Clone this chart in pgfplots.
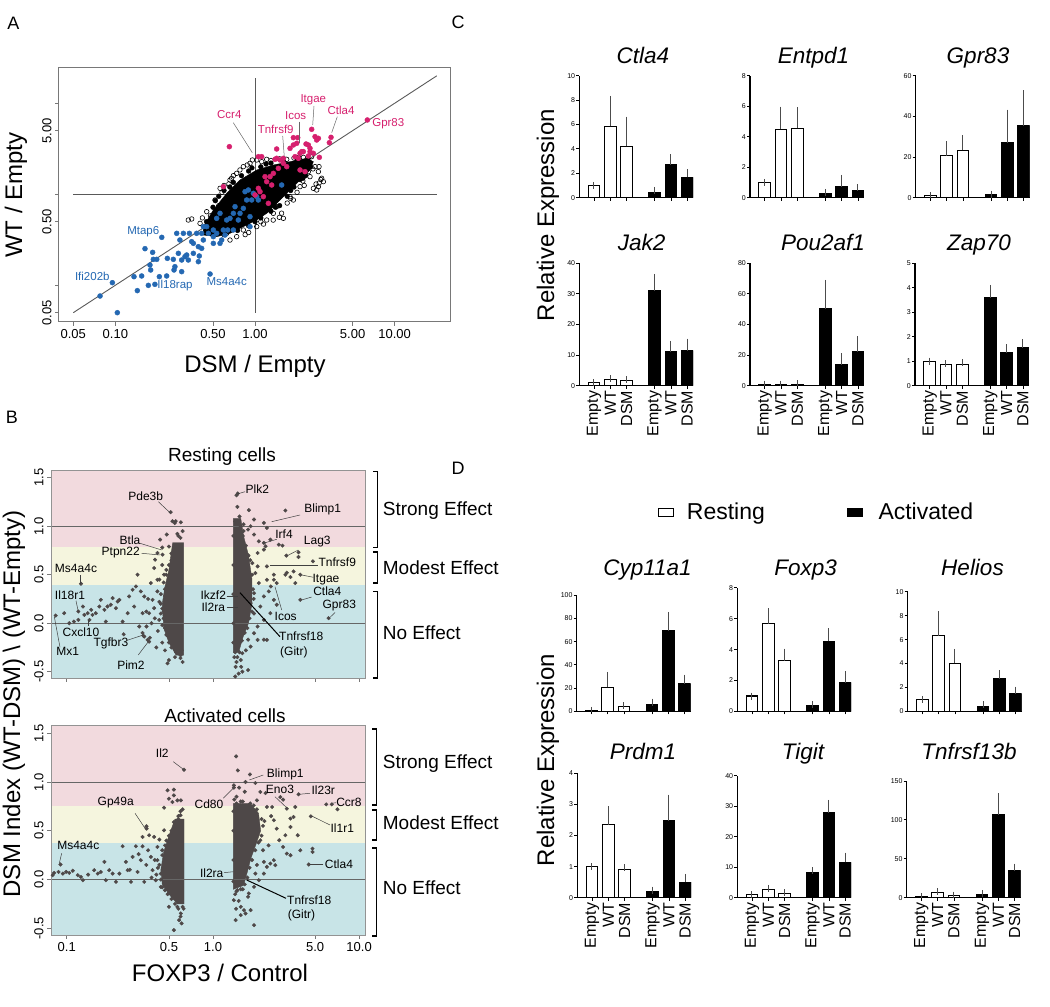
\documentclass[border=0pt]{standalone}
\usepackage{fontspec}
\setmainfont{Liberation Sans}
\usepackage{pgfplots}
\pgfplotsset{compat=1.18}
\definecolor{pinkpt}{RGB}{214,32,110}
\definecolor{bluept}{RGB}{36,104,178}
\definecolor{shpink}{RGB}{242,218,222}
\definecolor{shyel}{RGB}{245,245,222}
\definecolor{shblue}{RGB}{200,228,231}
\definecolor{ptgrey}{RGB}{78,72,72}
\definecolor{axgrey}{RGB}{120,120,120}
\newcommand{\fs}[1]{\fontsize{#1pt}{#1pt}\selectfont}
\pgfplotsset{
  every axis/.append style={/pgf/number format/assume math mode=true},
  barax/.style={anchor=south west, scale only axis, width=113.8pt,
    xmin=0.1, xmax=7.08, ymin=0, enlargelimits=false,
    axis x line*=bottom, axis y line*=left, axis line style={-, line width=1.1pt},
    xtick={1,2,3,4.72,5.72,6.72}, xticklabels={}, tick align=outside,
    major tick length=3pt, tick style={line width=0.8pt, black},
    yticklabel style={font=\fs{7}, inner sep=1pt}},
  rest/.style={ybar, bar shift=0pt, bar width=0.72, fill=white, draw=black, line width=1.1pt,
    error bars/y dir=plus, error bars/y explicit,
    error bars/error bar style={line width=1pt, black!70},
    error bars/error mark options={mark size=3.5pt, line width=1pt, black!70}},
  act/.style={rest, fill=black},
  botlab/.style={xticklabels={Empty,WT,DSM,Empty,WT,DSM},
    xticklabel style={rotate=90, anchor=east, font=\fs{16}, inner sep=2pt}},
  bpt/.style={only marks, mark=*, mark size=1.8pt, ptgrey, mark options={draw=ptgrey, fill=ptgrey}},
}
\tikzset{glab/.style={font=\fs{12}, inner sep=0pt},
  alab/.style={font=\fs{11.5}, inner sep=0pt},
  lead/.style={black!75, line width=0.5pt},
  ttl/.style={font=\fs{22.5}\itshape, anchor=base, inner sep=0pt}}
\begin{document}
\begin{tikzpicture}
\useasboundingbox (0,0) rectangle (1050pt,1007pt);
% ================= Panel A =================
\begin{axis}[anchor=south west, scale only axis, at={(59pt,685pt)}, width=392pt, height=254pt,
  xmode=log, ymode=log, xmin=0.0395, xmax=25.3, ymin=0.0395, ymax=24.4,
  axis line style={axgrey, line width=1pt}, tick style={axgrey, line width=0.8pt},
  tick align=outside, major tick length=4pt, xtick pos=left, ytick pos=left,
  xminorticks=false, yminorticks=false,
  ticklabel style={font=\fs{13}}, yticklabel style={rotate=90, anchor=south},
  xtick={0.05,0.1,0.5,1,5,10}, xticklabels={0.05,0.10,0.50,1.00,5.00,10.00},
  ytick={0.05,0.1,0.5,1,5,10}, yticklabels={0.05,,0.50,,5.00,}]
\addplot[black!65, line width=0.9pt] coordinates {(0.05,0.05) (20,20)};
\addplot[black!65, line width=0.9pt] coordinates {(1,0.05) (1,19)};
\addplot[black!65, line width=0.9pt] coordinates {(0.05,1) (20,1)};
\addplot[only marks, mark=o, mark size=2.3pt, mark options={black, line width=0.6pt}] coordinates {
(0.352,0.535) (1.028,2.38) (1.116,2.281) (1.212,2.42) (1.686,2.42) (2.219,2.546) (2.69,2.011)
(2.842,1.772) (3.086,1.375) (2.842,1.212) (2.764,1.114) (2.476,1.561) (2.10,1.212) (1.882,0.865)
(1.596,0.544) (1.281,0.672) (1.429,0.731) (1.212,0.521) (1.028,0.441) (0.825,0.405) (0.739,0.342)
(0.662,0.314) (0.517,0.865) (0.562,1.162) (0.662,1.435) (0.739,1.698) (0.825,2.011) (0.921,2.188)
(0.451,0.644) (0.404,0.479) (0.333,0.521) (1.494,0.558) (0.957,2.38) (2.545,2.589) (2.873,2.011)
(2.617,1.162) (2.734,1.297) (0.973,0.544) (1.353,0.617) (1.781,0.941) (2.159,1.698) (2.409,1.772)
(0.627,0.372) (1.028,0.567) (0.60,1.25) (0.70,1.60) (0.78,1.85) (1.5,2.45) (1.9,2.5) (2.3,2.3)
(2.6,1.9) (2.2,1.4) (2.0,1.05) (1.7,0.8) (1.35,0.52) (1.15,0.47) (0.9,0.38) (0.55,0.75)
(0.48,0.58) (0.44,0.42) (2.96,1.45) (3.0,1.5) (2.88,1.33) (0.58,1.05) (0.65,1.30) (0.88,2.1)
(1.3,2.35) (2.4,2.1) (2.25,1.25) (1.8,0.9) (1.55,0.62) (1.1,0.5) (0.85,0.36) (0.5,0.5)
(0.42,0.55) (0.68,1.5) (2.05,2.55)};
\addplot[black, fill=black] coordinates {(0.4266,0.4406) (0.503,0.6716) (0.6269,1.024) (0.781,1.435)
(1.028,1.848) (1.353,2.097) (1.781,2.281) (2.344,2.483) (2.617,2.281) (2.476,1.848) (1.988,1.318)
(1.686,1.024) (1.429,0.795) (1.212,0.6172) (1.028,0.5213) (0.825,0.4406) (0.6622,0.3722)
(0.5315,0.342) (0.4266,0.3567)} --cycle;
\addplot[only marks, mark=*, mark size=2.4pt, black] coordinates {
(0.45,0.50) (0.5,0.72) (0.55,0.95) (0.6,1.1) (0.7,1.35) (0.8,1.6) (0.9,1.8) (1.1,2.0) (1.3,2.2)
(1.6,2.3) (2.0,2.35) (2.4,2.35) (2.5,2.0) (2.3,1.6) (2.1,1.45) (1.9,1.2) (1.7,0.95) (1.5,0.75)
(1.3,0.65) (1.1,0.55) (0.9,0.45) (0.75,0.40) (0.6,0.36) (0.48,0.37) (0.52,0.85) (0.66,1.2)
(0.95,1.95) (1.2,2.15) (2.2,1.5) (1.8,1.1) (1.4,0.72) (1.0,0.5)};
\addplot[only marks, mark=*, mark size=2.5pt, bluept, mark options={draw=bluept, fill=bluept}] coordinates {
(0.0777,0.0762) (0.0952,0.1068) (0.1033,0.05) (0.1437,0.0873) (0.1723,0.0998) (0.192,0.1024)
(0.136,0.1243) (0.1543,0.1265) (0.2065,0.1243) (0.233,0.1265) (0.263,0.1472) (0.2985,0.1411)
(0.163,0.2524) (0.185,0.2301) (0.187,0.1928) (0.198,0.1928) (0.177,0.167) (0.179,0.1472)
(0.215,0.3363) (0.2356,0.1977) (0.26,0.1928) (0.267,0.1601) (0.275,0.3722) (0.29,0.3144)
(0.307,0.3722) (0.315,0.2062) (0.324,0.2151) (0.333,0.1895) (0.339,0.3722) (0.352,0.3014)
(0.3618,0.2889) (0.382,0.3722) (0.393,0.2655) (0.399,0.2098) (0.393,0.1816) (0.415,0.2545)
(0.4266,0.3144) (0.415,0.3722) (0.4508,0.4406) (0.4634,0.3722) (0.4764,0.133) (0.503,0.342)
(0.503,0.4049) (0.5315,0.3722) (0.5615,0.2889) (0.577,0.3144) (0.5933,0.4049) (0.61,0.3567)
(0.637,0.4049) (0.6622,0.5437) (0.6998,0.6172) (0.7193,0.7306) (0.781,0.6172) (0.8716,0.865)
(0.896,1.114) (0.9729,1.024) (1.028,0.941) (0.9208,0.5672) (0.9208,0.4406) (0.825,0.7005)
(0.5315,0.5437) (0.5615,0.6172) (0.6269,0.5213) (0.6998,0.4049) (0.7597,0.5213) (1.552,1.264)
(1.0565,0.865) (0.503,0.2889) (0.4266,0.4406) (0.3618,0.2244) (0.2985,0.1895) (0.2826,0.2244)
(0.848,1.068) (0.946,0.865)};
\addplot[only marks, mark=*, mark size=2.5pt, pinkpt, mark options={draw=pinkpt, fill=pinkpt}] coordinates {
(0.655,3.334) (0.5933,1.212) (1.116,2.589) (1.51,2.38) (1.469,1.928) (1.686,2.011) (1.781,3.197)
(1.882,3.478) (2.10,2.817) (2.409,3.478) (2.476,2.94) (2.764,3.947) (1.988,3.628) (2.219,2.94)
(1.281,1.561) (1.212,1.375) (1.316,1.264) (1.086,1.068) (1.246,0.795) (1.0,0.982) (1.353,1.698)
(1.596,2.188) (2.10,1.848) (2.28,1.772) (1.882,4.188) (2.021,4.188) (2.545,5.172) (3.501,4.223)
(3.406,3.69) (6.373,6.548) (2.318,3.567) (2.69,4.295) (2.842,4.118) (2.476,3.197) (2.617,2.817)
(2.888,2.546) (2.409,2.634) (2.159,2.94) (1.934,2.589) (2.043,2.483) (1.429,3.144) (1.391,2.42)
(1.0565,2.589) (1.429,2.483) (1.596,2.483) (1.179,1.561) (1.0565,1.162) (1.147,0.941)};
\end{axis}
\node[font=\fs{18}] at (13.5pt,983.5pt) {A};
\node[font=\fs{24}, rotate=90] at (16pt,812pt) {WT / Empty};
\node[font=\fs{24}] at (255pt,641pt) {DSM / Empty};
\node[alab, text=pinkpt] at (229.3pt,892.7pt) {Ccr4};
\draw[black!60, line width=0.5pt] (233.3pt,884.3pt) -- (252.3pt,854.3pt);
\node[alab, text=pinkpt] at (313.3pt,907.7pt) {Itgae};
\draw[black!60, line width=0.5pt] (314pt,901pt) -- (312.7pt,882pt);
\node[alab, text=pinkpt] at (295.7pt,891.7pt) {Icos};
\draw[black!60, line width=0.5pt] (299pt,885.3pt) -- (299pt,863.7pt);
\node[alab, text=pinkpt] at (275.7pt,877.7pt) {Tnfrsf9};
\draw[black!60, line width=0.5pt] (282.7pt,871pt) -- (284.3pt,850.3pt);
\node[alab, text=pinkpt] at (341pt,897pt) {Ctla4};
\draw[black!60, line width=0.5pt] (337.3pt,890.3pt) -- (331.7pt,874.3pt);
\node[alab, text=pinkpt] at (388.3pt,883pt) {Gpr83};
\node[alab, text=bluept] at (143.3pt,775.3pt) {Mtap6};
\node[alab, text=bluept] at (92.3pt,730.3pt) {Ifi202b};
\node[alab, text=bluept] at (175pt,721pt) {Il18rap};
\node[alab, text=bluept] at (226.7pt,725.3pt) {Ms4a4c};
% ================= Panel B top (Resting) =================
\begin{axis}[anchor=south west, scale only axis, at={(51pt,329pt)}, width=314pt, height=208pt,
  xmode=log, xmin=0.078, xmax=10.97, ymin=-0.565, ymax=1.58,
  axis line style={axgrey!80, line width=0.8pt}, tick style={axgrey, line width=0.8pt},
  tick align=outside, major tick length=4pt, xtick pos=left, ytick pos=left,
  xminorticks=false, axis on top,
  ticklabel style={font=\fs{13}}, yticklabel style={rotate=90, anchor=south},
  xtick={0.1,0.5,1,5,10}, xticklabels={},
  ytick={-0.5,0,0.5,1,1.5}, yticklabels={-0.5,0.0,0.5,1.0,1.5}]
\addplot[draw=none, fill=shpink] coordinates {(0.078,0.79) (10.97,0.79) (10.97,1.58) (0.078,1.58)} --cycle;
\addplot[draw=none, fill=shyel] coordinates {(0.078,0.39) (10.97,0.39) (10.97,0.79) (0.078,0.79)} --cycle;
\addplot[draw=none, fill=shblue] coordinates {(0.078,-0.565) (10.97,-0.565) (10.97,0.39) (0.078,0.39)} --cycle;
\addplot[draw=ptgrey, fill=ptgrey] coordinates {(0.53,0.83) (0.63,0.83) (0.63,-0.33) (0.56,-0.33)
(0.50,-0.2) (0.46,-0.05) (0.45,0.2) (0.47,0.38) (0.50,0.55)} --cycle;
\addplot[draw=ptgrey, fill=ptgrey] coordinates {(1.38,1.08) (1.55,1.08) (1.62,0.9) (1.75,0.7)
(1.85,0.45) (1.85,0.2) (1.75,0.0) (1.6,-0.15) (1.5,-0.3) (1.38,-0.3)} --cycle;
\addplot[bpt] coordinates {
(0.084,0.079) (0.096,0.103) (0.104,0.0) (0.112,0.017) (0.120,0.034) (0.120,0.121) (0.129,0.172)
(0.132,0.086) (0.139,0.103) (0.147,0.138) (0.150,0.086) (0.158,0.103) (0.167,0.172) (0.171,0.241)
(0.181,0.138) (0.185,0.017) (0.190,0.172) (0.200,0.19) (0.206,0.259) (0.217,0.155) (0.223,0.224)
(0.229,0.241) (0.241,0.017) (0.245,-0.114) (0.261,0.103) (0.267,0.276) (0.282,0.345) (0.289,0.172)
(0.297,0.379) (0.305,0.5) (0.313,-0.034) (0.321,0.328) (0.330,0.103) (0.339,0.276) (0.339,-0.138)
(0.351,-0.034) (0.357,-0.172) (0.366,0.103) (0.376,0.414) (0.386,0.241) (0.396,0.569) (0.396,0.155)
(0.402,0.655) (0.417,0.724) (0.417,0.448) (0.417,0.328) (0.429,0.034) (0.435,0.862) (0.452,0.707)
(0.463,0.5) (0.483,0.914) (0.489,-0.414) (0.514,1.145) (0.548,1.034) (0.556,1.052) (0.571,0.921)
(0.603,1.041) (0.528,1.052) (0.125,0.407) (0.143,0.034) (0.40,0.05) (0.42,-0.08) (0.44,0.2)
(0.45,-0.2) (0.46,0.12) (0.43,0.45) (0.45,0.6) (0.47,0.35) (0.38,0.0) (0.36,0.25) (0.41,-0.25)
(0.47,-0.28) (0.50,-0.38) (0.55,-0.35) (0.60,-0.33) (0.58,0.9) (0.62,0.95) (0.45,0.78) (0.50,0.79)
(0.52,0.65) (0.48,0.55) (0.35,0.12) (0.37,-0.15) (0.33,-0.10) (0.335,-0.131) (0.366,-0.19)
(0.44,0.3) (0.46,0.42) (0.48,0.5) (0.5,0.6) (0.52,0.72) (0.55,0.8) (0.45,0.15) (0.46,0.05)
(0.47,-0.05) (0.48,-0.12) (0.5,-0.2) (0.52,-0.25) (0.56,-0.3) (0.6,-0.36) (0.62,-0.4) (0.61,-0.28)
(0.43,0.22) (0.44,0.1) (0.45,-0.02) (0.53,0.68) (0.56,0.75) (0.6,0.88) (0.58,0.78) (0.51,0.45)
(0.49,0.38) (0.47,0.28)
(1.48,1.338) (1.45,1.32) (1.76,1.166) (2.23,1.034) (2.34,0.983) (3.13,1.162) (1.74,0.966)
(1.91,0.914) (2.06,0.845) (2.23,0.828) (2.29,0.793) (2.23,0.759) (2.82,0.81) (2.99,0.80)
(3.18,0.697) (3.85,0.731) (3.85,0.683) (4.83,0.638) (3.96,0.5) (3.56,0.534) (3.39,0.476)
(3.66,0.414) (3.13,0.5) (2.61,0.5) (2.61,0.448) (2.49,0.379) (2.73,0.414) (2.41,0.328)
(2.23,0.276) (2.06,0.414) (1.95,0.517) (1.91,0.31) (1.81,0.207) (2.11,0.172) (2.61,0.241)
(2.73,0.19) (2.47,0.103) (2.23,0.034) (2.02,-0.034) (1.91,-0.103) (2.34,-0.172) (2.02,-0.172)
(1.81,-0.241) (1.74,-0.483) (1.59,-0.5) (1.55,-0.379) (3.96,0.241) (6.18,0.052) (1.91,1.069)
(1.81,1.0) (1.74,0.69) (1.86,0.62) (2.02,0.586) (2.02,0.724) (1.76,0.414) (2.34,0.586)
(2.47,0.862) (3.2,0.52) (2.34,0.448) (2.23,-0.17) (1.91,0.10) (1.74,-0.17) (1.59,-0.31)
(1.42,-0.3) (1.45,-0.4) (1.42,-0.55) (1.50,-0.52) (1.52,-0.2) (1.65,-0.05) (1.44,-0.12)
(1.47,1.2) (1.42,1.05) (1.55,1.0) (1.6,0.9) (1.4,-0.35) (1.56,-0.45) (1.68,-0.28)
(1.62,0.95) (1.68,0.8) (1.75,0.7) (1.8,0.65) (1.85,0.5) (1.88,0.35) (1.9,0.25) (1.85,0.12)
(1.78,0.05) (1.72,-0.05) (1.65,-0.1) (1.58,-0.18) (1.52,-0.3) (1.47,-0.35) (1.43,-0.45)
(1.62,1.02) (1.52,1.1) (1.38,0.9) (1.38,0.6) (1.38,0.3) (1.38,0.0) (1.38,-0.2) (1.7,0.45)
(1.75,0.3) (1.65,0.2)};
\addplot[black!60, line width=0.7pt] coordinates {(0.078,1) (10.97,1)};
\addplot[black!60, line width=0.7pt] coordinates {(0.078,0) (10.97,0)};
\end{axis}
% ================= Panel B bottom (Activated) =================
\begin{axis}[anchor=south west, scale only axis, at={(51pt,72pt)}, width=314pt, height=210pt,
  xmode=log, xmin=0.078, xmax=10.97, ymin=-0.569, ymax=1.585,
  axis line style={axgrey!80, line width=0.8pt}, tick style={axgrey, line width=0.8pt},
  tick align=outside, major tick length=4pt, xtick pos=left, ytick pos=left,
  xminorticks=false, axis on top,
  ticklabel style={font=\fs{13}}, yticklabel style={rotate=90, anchor=south},
  xtick={0.1,0.5,1,5,10}, xticklabels={0.1,0.5,1.0,5.0,10.0},
  ytick={-0.5,0,0.5,1,1.5}, yticklabels={-0.5,0.0,0.5,1.0,1.5}]
\addplot[draw=none, fill=shpink] coordinates {(0.078,0.75) (10.97,0.75) (10.97,1.585) (0.078,1.585)} --cycle;
\addplot[draw=none, fill=shyel] coordinates {(0.078,0.37) (10.97,0.37) (10.97,0.75) (0.078,0.75)} --cycle;
\addplot[draw=none, fill=shblue] coordinates {(0.078,-0.569) (10.97,-0.569) (10.97,0.37) (0.078,0.37)} --cycle;
\addplot[draw=ptgrey, fill=ptgrey] coordinates {(0.55,0.62) (0.634,0.62) (0.634,-0.25) (0.57,-0.25)
(0.50,-0.15) (0.45,-0.05) (0.44,0.1) (0.46,0.28) (0.50,0.45)} --cycle;
\addplot[draw=ptgrey, fill=ptgrey] coordinates {(1.38,0.78) (1.80,0.78) (2.05,0.68) (2.12,0.50)
(1.98,0.37) (1.82,0.22) (1.72,0.08) (1.62,-0.06) (1.38,-0.1)} --cycle;
\addplot[bpt] coordinates {
(0.0906,0.154) (0.080,0.044) (0.082,0.068) (0.0878,0.078) (0.094,0.061) (0.099,0.078) (0.104,0.068)
(0.119,0.044) (0.125,0.027) (0.129,-0.007) (0.154,0.096) (0.163,0.061) (0.171,0.078) (0.181,0.181)
(0.185,-0.007) (0.195,0.096) (0.206,0.061) (0.217,-0.024) (0.229,0.061) (0.241,0.341) (0.254,0.181)
(0.261,0.096) (0.275,-0.024) (0.282,0.232) (0.297,0.341) (0.305,0.078) (0.321,0.198) (0.330,0.341)
(0.330,0.437) (0.339,-0.024) (0.351,0.546) (0.352,0.522) (0.366,0.454) (0.376,0.232) (0.386,0.096)
(0.396,0.437) (0.406,-0.007) (0.417,0.334) (0.44,-0.075) (0.463,0.505) (0.463,0.737) (0.489,0.915)
(0.50,0.829) (0.528,0.795) (0.54,0.922) (0.54,0.863) (0.571,0.812) (0.603,0.812) (0.587,-0.416)
(0.54,-0.519) (0.603,-0.348) (0.571,-0.28) (0.50,-0.28) (0.47,-0.11) (0.44,0.061) (0.417,0.198)
(0.571,0.471) (0.54,0.59) (0.556,0.539) (0.634,1.126) (0.60,0.70) (0.62,0.72) (0.58,0.65)
(0.36,0.30) (0.38,0.02) (0.35,0.15) (0.42,0.12) (0.45,0.25) (0.27,0.10) (0.31,0.26) (0.14,0.05)
(0.11,0.09) (0.61,-0.45) (0.63,-0.30) (0.48,0.40) (0.43,0.41)
(0.44,0.0) (0.43,0.15) (0.45,0.3) (0.47,0.35) (0.5,0.45) (0.52,0.5) (0.55,0.55) (0.58,0.62)
(0.6,0.66) (0.45,-0.08) (0.49,-0.15) (0.52,-0.2) (0.55,-0.25) (0.58,-0.3) (0.62,-0.28) (0.6,-0.38)
(0.47,0.2) (0.41,0.05) (0.40,0.2)
(1.44,1.263) (1.48,1.119) (1.79,1.078) (1.67,1.0) (1.39,0.966) (1.51,0.942) (1.95,0.99)
(2.11,0.898) (2.29,0.887) (2.0,0.812) (2.34,0.744) (2.54,0.744) (2.89,0.846) (3.02,0.819)
(3.2,0.727) (3.66,0.744) (3.85,0.874) (3.56,0.642) (3.39,0.625) (3.80,0.454) (3.39,0.539)
(2.73,0.522) (2.61,0.608) (2.84,0.403) (3.13,0.454) (3.2,0.266) (3.02,0.334) (2.61,0.198)
(2.47,0.164) (2.67,0.147) (2.34,0.13) (2.23,0.181) (3.96,0.30) (4.8,0.317) (4.8,0.283)
(3.39,0.249) (4.52,0.154) (4.67,0.648) (5.96,0.771) (6.5,0.771) (7.11,0.72) (2.11,0.403)
(1.91,0.539) (2.06,-0.007) (1.91,-0.075) (1.76,-0.143) (1.55,-0.28) (1.43,-0.416) (1.63,-0.314)
(1.91,-0.468) (1.81,-0.314) (1.74,-0.177) (1.47,-0.109) (1.39,-0.212) (1.55,-0.365) (1.67,-0.348)
(1.95,0.061) (2.23,0.061) (1.39,0.942) (1.4,0.82) (1.45,0.85) (1.55,0.80) (1.65,0.9) (2.2,0.3)
(2.4,0.35) (2.0,0.15) (1.85,0.3) (2.25,0.6) (2.5,0.65) (1.42,-0.15) (1.50,-0.22) (1.60,-0.10)
(1.44,-0.30)
(1.8,0.78) (1.9,0.76) (2.0,0.72) (2.15,0.62) (2.2,0.55) (2.15,0.45) (2.05,0.38) (1.95,0.3)
(1.85,0.2) (1.78,0.12) (1.72,0.02) (1.65,-0.05) (1.55,-0.1) (1.45,-0.12) (1.38,0.5) (1.38,0.2)
(1.38,-0.02) (1.38,0.7) (1.6,0.8) (1.45,0.78)};
\addplot[black!60, line width=0.7pt] coordinates {(0.078,1) (10.97,1)};
\addplot[black!60, line width=0.7pt] coordinates {(0.078,0) (10.97,0)};
\end{axis}
% ---- Panel B texts ----
\node[font=\fs{18}] at (12pt,590pt) {B};
\node[font=\fs{24}, rotate=90] at (14pt,303pt) {DSM Index (WT-DSM) \textbackslash{} (WT-Empty)};
\node[font=\fs{24}] at (220pt,34pt) {FOXP3 / Control};
\node[font=\fs{19}] at (222pt,550pt) {Resting cells};
\node[font=\fs{19}] at (225pt,291pt) {Activated cells};
\begin{scope}[line width=1.1pt]
\draw (373pt,535.3pt) -- (377.7pt,535.3pt) -- (377.7pt,459.7pt) -- (373pt,459.7pt);
\draw (373pt,455pt) -- (377.7pt,455pt) -- (377.7pt,424pt) -- (373pt,424pt);
\draw (373pt,415.3pt) -- (377.7pt,415.3pt) -- (377.7pt,329pt) -- (373pt,329pt);
\draw (372pt,278pt) -- (376.5pt,278pt) -- (376.5pt,202pt) -- (372pt,202pt);
\draw (372pt,197pt) -- (376.5pt,197pt) -- (376.5pt,167pt) -- (372pt,167pt);
\draw (372pt,159pt) -- (376.5pt,159pt) -- (376.5pt,71pt) -- (372pt,71pt);
\end{scope}
\begin{scope}[every node/.style={font=\fs{19}, anchor=west, inner sep=0pt}]
\node at (382.7pt,496.3pt) {Strong Effect};
\node at (382.7pt,439pt) {Modest Effect};
\node at (382.7pt,374.3pt) {No Effect};
\node at (382.7pt,243pt) {Strong Effect};
\node at (382.7pt,184.3pt) {Modest Effect};
\node at (382.7pt,119.7pt) {No Effect};
\end{scope}
% resting gene labels
\node[glab] at (145.7pt,511pt) {Pde3b}; \draw[lead] (158.3pt,505.3pt) -- (170pt,494.3pt);
\node[glab] at (257.3pt,517.7pt) {Plk2}; \draw[lead] (245pt,515.3pt) -- (237.3pt,513pt);
\node[glab] at (322.7pt,497.7pt) {Blimp1}; \draw[lead] (300pt,492pt) -- (271.7pt,485.3pt);
\node[glab] at (284pt,472.7pt) {Irf4}; \draw[lead] (276.7pt,467.7pt) -- (263.3pt,463.7pt);
\node[glab] at (317.3pt,465.3pt) {Lag3}; \draw[lead] (298.3pt,457pt) -- (286.7pt,451pt);
\node[glab] at (337.3pt,444.3pt) {Tnfrsf9}; \draw[lead] (270pt,442pt) -- (318.3pt,442pt);
\node[glab] at (326pt,427pt) {Itgae}; \draw[lead] (313.3pt,429.7pt) -- (301.7pt,432pt);
\node[glab] at (130pt,467pt) {Btla}; \draw[lead] (140pt,463.7pt) -- (161.7pt,457pt);
\node[glab] at (120.7pt,454.7pt) {Ptpn22}; \draw[lead] (141.7pt,453.7pt) -- (160pt,452pt);
\node[glab] at (76pt,438.3pt) {Ms4a4c}; \draw[lead] (80pt,432pt) -- (80pt,423pt);
\node[glab] at (70pt,411.7pt) {Il18r1}; \draw[lead] (76pt,406.3pt) -- (78.3pt,395.3pt);
\node[glab] at (81pt,375pt) {Cxcl10}; \draw[lead] (88.3pt,381pt) -- (88.3pt,387pt);
\node[glab] at (67.7pt,355.3pt) {Mx1}; \draw[lead] (60pt,359.7pt) -- (54.3pt,390.3pt);
\node[glab] at (111pt,364pt) {Tgfbr3}; \draw[lead] (126pt,366.3pt) -- (143.3pt,372pt);
\node[glab] at (131pt,342pt) {Pim2}; \draw[lead] (138.3pt,352pt) -- (148.3pt,365.3pt);
\node[glab] at (213.3pt,412pt) {Ikzf2}; \draw[lead] (226.7pt,410.3pt) -- (238.3pt,410.3pt);
\node[glab] at (213.3pt,399.3pt) {Il2ra}; \draw[lead] (226.7pt,399.3pt) -- (238.3pt,399.3pt);
\node[glab] at (285.7pt,391pt) {Icos}; \draw[lead] (281.7pt,397pt) -- (275pt,420.3pt);
\node[glab] at (327.3pt,416pt) {Ctla4}; \draw[lead] (311.7pt,410pt) -- (301.7pt,407pt);
\node[glab] at (339.3pt,401pt) {Gpr83}; \draw[lead] (335pt,394.5pt) -- (328.3pt,388pt);
\node[glab, anchor=west] at (279pt,370.3pt) {Tnfrsf18};
\node[glab, anchor=west] at (280pt,354.7pt) {(Gitr)};
\draw[black, line width=1pt] (240pt,414.3pt) -- (280pt,370.3pt);
% activated gene labels
\node[glab] at (162.3pt,254.3pt) {Il2}; \draw[lead] (173.3pt,245.3pt) -- (183.3pt,237.7pt);
\node[glab] at (285.3pt,233pt) {Blimp1}; \draw[lead] (263.3pt,232pt) -- (249.3pt,227pt);
\node[glab] at (280pt,217.7pt) {Eno3}; \draw[lead] (275pt,210.3pt) -- (287.3pt,198.7pt);
\node[glab] at (323.3pt,216.3pt) {Il23r}; \draw[lead] (310pt,213.7pt) -- (299.3pt,212.7pt);
\node[glab] at (349pt,204.7pt) {Ccr8}; \draw[lead] (336pt,204.3pt) -- (331.7pt,203.7pt);
\node[glab] at (209pt,202.3pt) {Cd80}; \draw[lead] (223.3pt,208.7pt) -- (233.3pt,218.7pt);
\node[glab] at (115.7pt,204.3pt) {Gp49a}; \draw[lead] (135pt,193.7pt) -- (145pt,178.7pt);
\node[glab] at (342.3pt,178.7pt) {Il1r1}; \draw[lead] (330pt,182pt) -- (311.7pt,191pt);
\node[glab] at (78.3pt,161.3pt) {Ms4a4c}; \draw[lead] (61.7pt,153.7pt) -- (59.3pt,143.7pt);
\node[glab] at (339pt,142.7pt) {Ctla4}; \draw[lead] (323.3pt,142.7pt) -- (310pt,142.7pt);
\node[glab] at (211.7pt,133.7pt) {Il2ra}; \draw[lead] (224pt,134.3pt) -- (233.3pt,135.3pt);
\node[glab, anchor=west] at (287pt,107pt) {Tnfrsf18};
\node[glab, anchor=west] at (287.7pt,91.3pt) {(Gitr)};
\draw[black, line width=1pt] (246.7pt,127pt) -- (286pt,108.7pt);
% ================= Panel C =================
\node[font=\fs{18}] at (458pt,985pt) {C};
\node[font=\fs{24}, rotate=90] at (548pt,792pt) {Relative Expression};
\begin{axis}[barax, at={(579.3pt,809.3pt)}, height=122pt, ymax=10, ytick={0,2,...,10}]
\addplot[rest] coordinates {(1,1.0) +- (0,0) (2,5.85) +- (0,2.2) (3,4.2) +- (0,2.15)};
\addplot[act] coordinates {(4.72,0.45) +- (0,0.15) (5.72,2.72) +- (0,0.56) (6.72,1.67) +- (0,0.38)};
\end{axis}
\begin{axis}[barax, at={(750pt,809.3pt)}, height=122pt, ymax=8, ytick={0,2,...,8}]
\addplot[rest] coordinates {(1,1.0) +- (0,0) (2,4.48) +- (0,1.27) (3,4.55) +- (0,1.15)};
\addplot[act] coordinates {(4.72,0.26) +- (0,0.09) (5.72,0.72) +- (0,0.55) (6.72,0.46) +- (0,0.2)};
\end{axis}
\begin{axis}[barax, at={(915.7pt,809.3pt)}, height=122pt, ymax=60, ytick={0,20,40,60}]
\addplot[rest] coordinates {(1,1.0) +- (0,0) (2,20.7) +- (0,5.4) (3,23.4) +- (0,5.5)};
\addplot[act] coordinates {(4.72,1.5) +- (0,0.3) (5.72,27.0) +- (0,14.6) (6.72,35.4) +- (0,15.7)};
\end{axis}
\begin{axis}[barax, botlab, at={(579.3pt,621.3pt)}, height=122.4pt, ymax=40, ytick={0,10,...,40}]
\addplot[rest] coordinates {(1,1.0) +- (0,0) (2,2.07) +- (0,0.23) (3,1.74) +- (0,0.26)};
\addplot[act] coordinates {(4.72,31.1) +- (0,4.3) (5.72,11.0) +- (0,2.5) (6.72,11.4) +- (0,2.8)};
\end{axis}
\begin{axis}[barax, botlab, at={(750pt,621.3pt)}, height=122.4pt, ymax=80, ytick={0,20,...,80}]
\addplot[rest] coordinates {(1,1.0) +- (0,0) (2,0.9) +- (0,0.2) (3,1.0) +- (0,0.3)};
\addplot[act] coordinates {(4.72,50.4) +- (0,16.5) (5.72,13.7) +- (0,5.3) (6.72,22.2) +- (0,7.9)};
\end{axis}
\begin{axis}[barax, botlab, at={(915pt,621.3pt)}, height=122.4pt, ymax=5, ytick={0,1,...,5}]
\addplot[rest] coordinates {(1,1.0) +- (0,0) (2,0.86) +- (0,0.04) (3,0.86) +- (0,0.07)};
\addplot[act] coordinates {(4.72,3.6) +- (0,0.38) (5.72,1.35) +- (0,0.19) (6.72,1.55) +- (0,0.21)};
\end{axis}
\node[ttl] at (643pt,943pt) {Ctla4};
\node[ttl] at (813.5pt,943pt) {Entpd1};
\node[ttl] at (978pt,943pt) {Gpr83};
\node[ttl] at (641.7pt,756pt) {Jak2};
\node[ttl] at (823pt,756pt) {Pou2af1};
\node[ttl] at (979pt,756pt) {Zap70};
% ================= Panel D =================
\node[font=\fs{18}] at (458pt,538.7pt) {D};
\node[font=\fs{24}, rotate=90] at (548pt,247pt) {Relative Expression};
\draw[black, line width=1.1pt, fill=white] (658.3pt,490.3pt) rectangle (673.3pt,498.7pt);
\node[font=\fs{23}, anchor=base west, inner sep=0pt] at (686.7pt,487pt) {Resting};
\fill[black] (846.7pt,490.3pt) rectangle (862.7pt,499.3pt);
\node[font=\fs{23}, anchor=base west, inner sep=0pt] at (878.3pt,487pt) {Activated};
\begin{axis}[barax, at={(576.7pt,295.5pt)}, height=116.5pt, ymax=100, ytick={0,20,...,100}]
\addplot[rest] coordinates {(1,1.0) +- (0,0) (2,20.6) +- (0,10.3) (3,4.0) +- (0,1.1)};
\addplot[act] coordinates {(4.72,6.3) +- (0,1.7) (5.72,69.4) +- (0,13.2) (6.72,23.7) +- (0,4.9)};
\end{axis}
\begin{axis}[barax, at={(737.3pt,295.5pt)}, height=123.8pt, ymax=8, ytick={0,2,...,8}]
\addplot[rest] coordinates {(1,1.0) +- (0,0) (2,5.68) +- (0,0.78) (3,3.27) +- (0,0.57)};
\addplot[act] coordinates {(4.72,0.4) +- (0,0.05) (5.72,4.53) +- (0,0.61) (6.72,1.87) +- (0,0.52)};
\end{axis}
\begin{axis}[barax, at={(907.7pt,295.5pt)}, height=119.8pt, ymax=10, ytick={0,2,...,10}]
\addplot[rest] coordinates {(1,1.0) +- (0,0) (2,6.33) +- (0,1.75) (3,4.03) +- (0,0.91)};
\addplot[act] coordinates {(4.72,0.44) +- (0,0.11) (5.72,2.72) +- (0,0.42) (6.72,1.47) +- (0,0.31)};
\end{axis}
\begin{axis}[barax, botlab, at={(577.3pt,109.3pt)}, height=124.4pt, ymax=4, ytick={0,1,...,4}]
\addplot[rest] coordinates {(1,1.0) +- (0,0) (2,2.34) +- (0,0.49) (3,0.91) +- (0,0.06)};
\addplot[act] coordinates {(4.72,0.19) +- (0,0.05) (5.72,2.48) +- (0,0.72) (6.72,0.5) +- (0,0.15)};
\end{axis}
\begin{axis}[barax, botlab, at={(737.3pt,109.3pt)}, height=122pt, ymax=40, ytick={0,10,...,40}]
\addplot[rest] coordinates {(1,1.0) +- (0,0) (2,2.7) +- (0,0.36) (3,1.4) +- (0,0.2)};
\addplot[act] coordinates {(4.72,8.3) +- (0,0.55) (5.72,27.9) +- (0,3.0) (6.72,11.6) +- (0,2.0)};
\end{axis}
\begin{axis}[barax, botlab, at={(906.7pt,109.3pt)}, height=116.7pt, ymax=150, ytick={0,50,100,150}]
\addplot[rest] coordinates {(1,1.0) +- (0,0) (2,6.4) +- (0,1.3) (3,3.0) +- (0,0.4)};
\addplot[act] coordinates {(4.72,3.9) +- (0,1.2) (5.72,106.7) +- (0,23.2) (6.72,35.1) +- (0,4.3)};
\end{axis}
\node[ttl] at (647.5pt,431pt) {Cyp11a1};
\node[ttl] at (805.7pt,431pt) {Foxp3};
\node[ttl] at (972.5pt,431pt) {Helios};
\node[ttl] at (643pt,247pt) {Prdm1};
\node[ttl] at (803pt,247pt) {Tigit};
\node[ttl] at (969pt,247pt) {Tnfrsf13b};
\end{tikzpicture}
\end{document}
